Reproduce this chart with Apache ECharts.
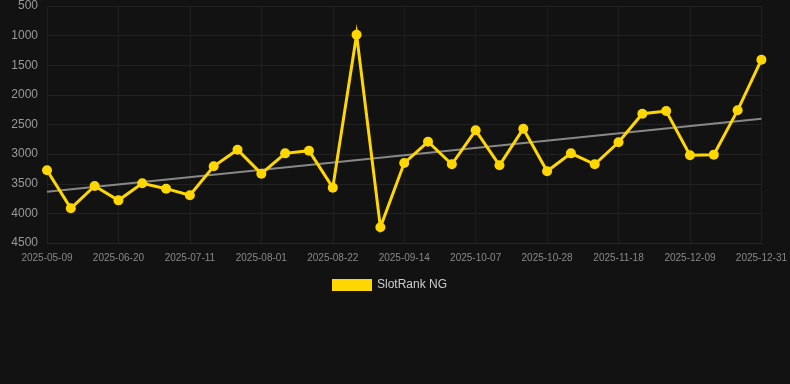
<!DOCTYPE html>
<html>
<head>
<meta charset="utf-8">
<script src="https://cdn.jsdelivr.net/npm/echarts@6/dist/echarts.min.js"></script>
<style>
  html, body { margin: 0; padding: 0; background: #121212; }
  #chart { width: 790px; height: 384px; }
</style>
</head>
<body>
<div id="chart"></div>
<script>
// dates (only every 3rd one is labelled on the axis)
const dates = [
  '2025-05-09', '2025-05-23', '2025-06-06', '2025-06-20', '2025-06-27', '2025-07-04',
  '2025-07-11', '2025-07-18', '2025-07-25', '2025-08-01', '2025-08-08', '2025-08-15',
  '2025-08-22', '2025-08-29', '2025-09-06', '2025-09-14', '2025-09-21', '2025-09-29',
  '2025-10-07', '2025-10-14', '2025-10-21', '2025-10-28', '2025-11-04', '2025-11-11',
  '2025-11-18', '2025-11-25', '2025-12-02', '2025-12-09', '2025-12-16', '2025-12-23',
  '2025-12-31'
];
// rank values
const ranks = [
  3273, 3915, 3538, 3780, 3493, 3583, 3695, 3206, 2925, 3330, 2987,
  2942, 3566, 984, 4235, 3150, 2790, 3172, 2598, 3189, 2571,
  3290, 2987, 3172, 2801, 2318, 2272, 3020, 3009, 2261, 1406
];
// trend line ends
const trendStart = 3634;
const trendEnd = 2402;

const chart = echarts.init(document.getElementById('chart'));
chart.setOption({
  backgroundColor: '#121212',
  animation: false,
  grid: { left: 47, right: 28, top: 6, bottom: 141 },
  legend: {
    bottom: 88,
    left: 327,
    itemWidth: 40,
    itemHeight: 12,
    icon: 'rect',
    textStyle: { color: '#cccccc', fontSize: 12, fontFamily: 'Liberation Sans, Arial' },
    data: ['SlotRank NG']
  },
  xAxis: {
    type: 'category',
    data: dates,
    boundaryGap: false,
    axisLine: { lineStyle: { color: '#262626' } },
    axisTick: { show: false },
    axisLabel: {
      interval: 2,
      color: '#888888',
      fontSize: 10,
      margin: 10,
      fontFamily: 'Liberation Sans, Arial'
    },
    splitLine: { show: true, interval: 2, lineStyle: { color: '#1e1e1e' } }
  },
  yAxis: {
    type: 'value',
    inverse: true,
    min: 500,
    max: 4500,
    interval: 500,
    axisLine: { show: false },
    axisTick: { show: false },
    axisLabel: {
      color: '#999999',
      fontSize: 12,
      margin: 9,
      fontFamily: 'Liberation Sans, Arial',
      formatter: v => String(v)
    },
    splitLine: { lineStyle: { color: '#222222' } }
  },
  series: [
    {
      name: 'SlotRank NG',
      type: 'line',
      data: ranks,
      symbol: 'circle',
      symbolSize: 10,
      itemStyle: { color: '#FFD700' },
      lineStyle: { color: '#FFD700', width: 3, join: 'miter' },
      z: 3,
      markLine: {
        silent: true,
        symbol: 'none',
        label: { show: false },
        lineStyle: { color: '#888888', width: 2, type: 'solid' },
        data: [[
          { coord: [0, trendStart] },
          { coord: [dates.length - 1, trendEnd] }
        ]],
        z: 2
      }
    }
  ]
});
</script>
</body>
</html>
